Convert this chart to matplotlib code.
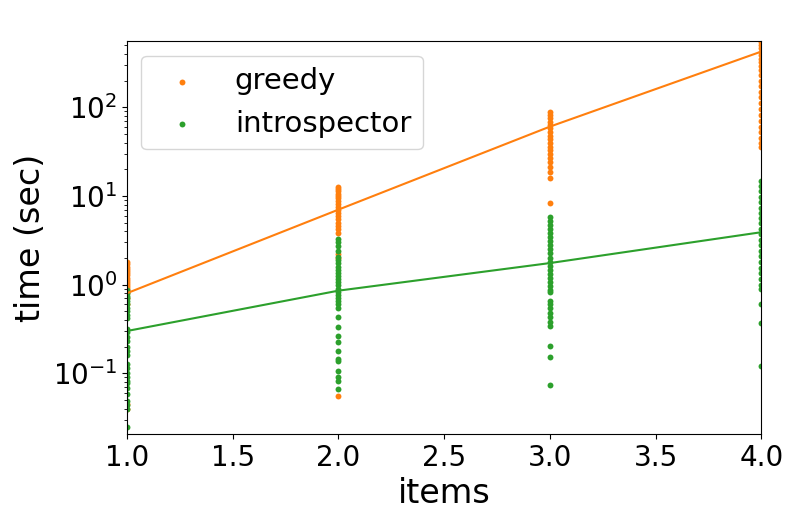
import numpy as np
import matplotlib
matplotlib.use("Agg")
import matplotlib.pyplot as plt

items = [1, 2, 3, 4]

# measured run times (sec) per number of items
greedy_times = {
    1: [1.82, 1.7, 1.6, 1.5, 1.42, 1.35, 1.28, 1.2, 1.14, 1.08, 1.02, 0.97,
        0.92, 0.88, 0.8, 0.7, 0.6, 0.045, 0.04],
    2: [12.7, 12.0, 11.3, 10.6, 10.0, 9.4, 8.8, 8.2, 7.6, 7.0, 6.5, 6.0, 5.5,
        5.0, 4.6, 4.2, 3.8, 2.2, 2.0, 0.055],
    3: [89, 82, 75, 69, 63, 58, 53, 48, 44, 40, 36, 33, 30, 27, 24, 21, 18.5,
        16, 8.4],
    4: [540, 500, 460, 420, 385, 350, 320, 290, 260, 230, 200, 175, 150, 130,
        112, 96, 82, 70, 60, 52, 45, 40, 36],
}
introspector_times = {
    1: [0.86, 0.8, 0.75, 0.7, 0.65, 0.6, 0.55, 0.5, 0.46, 0.42, 0.32, 0.29,
        0.26, 0.23, 0.2, 0.18, 0.16, 0.128, 0.115, 0.1, 0.09, 0.081, 0.077,
        0.068, 0.059, 0.049, 0.044, 0.04, 0.025],
    2: [3.3, 3.0, 2.7, 2.4, 2.07, 1.9, 1.75, 1.6, 1.48, 1.36, 1.25, 1.15, 1.06,
        0.98, 0.9, 0.83, 0.77, 0.71, 0.65, 0.6, 0.55, 0.436, 0.336, 0.266,
        0.228, 0.18, 0.147, 0.136, 0.105, 0.092, 0.083, 0.067],
    3: [5.8, 5.2, 4.7, 4.2, 3.8, 3.4, 3.1, 2.8, 2.5, 2.25, 2.0, 1.8, 1.62, 1.46,
        1.32, 1.2, 1.08, 0.97, 0.88, 0.83, 0.66, 0.6, 0.54, 0.48, 0.43, 0.38,
        0.345, 0.205, 0.154, 0.0745],
    4: [14.9, 13.0, 11.3, 9.8, 8.5, 7.4, 6.4, 5.6, 4.9, 4.2, 3.7, 3.2, 2.8, 2.4,
        2.1, 1.8, 1.55, 1.35, 1.15, 1.0, 0.9, 0.61, 0.37, 0.122],
}

# average time per number of items (the lines)
greedy_avg = [0.8, 7.0, 60.4, 424]
introspector_avg = [0.3, 0.855, 1.75, 3.9]


def flatten(times):
    xs, ys = [], []
    for n in items:
        xs += [n] * len(times[n])
        ys += times[n]
    return xs, ys


fig = plt.figure(figsize=(7.93, 5.17), dpi=100)
ax = fig.add_axes([0.160, 0.1605, 0.800, 0.7602])

gx, gy = flatten(greedy_times)
ix, iy = flatten(introspector_times)
ax.scatter(gx, gy, s=18, color="C1", linewidths=0, label="greedy")
ax.scatter(ix, iy, s=18, color="C2", linewidths=0, label="introspector")
ax.plot(items, greedy_avg, color="C1")
ax.plot(items, introspector_avg, color="C2")

ax.set_yscale("log")
ax.set_xlim(1, 4)
ax.set_ylim(0.0207, 558)
ax.set_xlabel("items", fontsize=24)
ax.set_ylabel("time (sec)", fontsize=24)
ax.tick_params(labelsize=20)
ax.legend(loc="upper left", fontsize=21)

fig.savefig("out.png", dpi=100)
